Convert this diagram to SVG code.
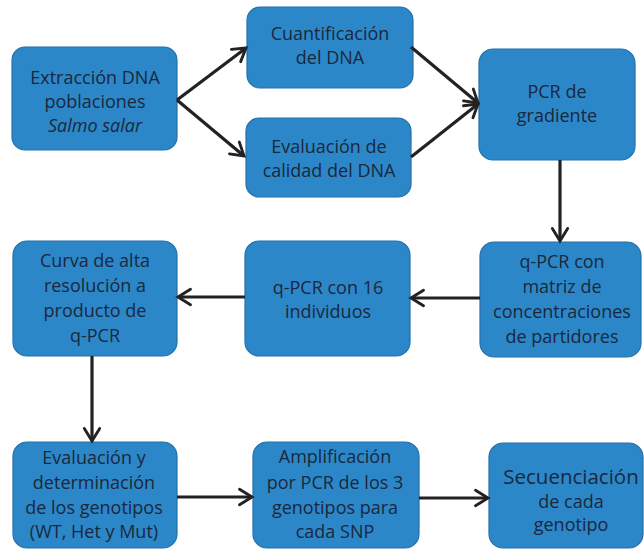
<svg xmlns="http://www.w3.org/2000/svg" width="644" height="550" viewBox="0 0 644 550">
<defs>
<marker id="arr" viewBox="0 0 10 10" refX="8" refY="5" markerWidth="6" markerHeight="6" markerUnits="strokeWidth" orient="auto">
<path d="M1.5,1 L8,5 L1.5,9" fill="none" stroke="#222" stroke-width="1.5" stroke-linejoin="miter" stroke-linecap="round"/>
</marker>
<style>
.box{fill:#2b87c8;stroke:#2470aa;stroke-width:1.2}
.t{font-family:"Open Sans","Liberation Sans",sans-serif;font-size:18px;fill:#1b283c;text-anchor:middle}
.big{font-size:20.5px}
.it{font-style:italic}
.c{fill:none;stroke:#222;stroke-width:3.2;marker-end:url(#arr)}
</style>
</defs>
<rect width="644" height="550" fill="#ffffff"/>
<g id="n1"><rect class="box" x="12" y="47" width="165" height="103" rx="13"/>
<text class="t" x="95" y="84">Extracción DNA</text><text class="t" x="95" y="108">poblaciones</text><text class="t it" x="95" y="132">Salmo salar</text></g>
<g id="n2"><rect class="box" x="247" y="7" width="166" height="81" rx="13"/>
<text class="t" x="330" y="40">Cuantificación</text><text class="t" x="330" y="64">del DNA</text></g>
<g id="n3"><rect class="box" x="246" y="118" width="165" height="79" rx="13"/>
<text class="t" x="329" y="153">Evaluación de</text><text class="t" x="329" y="177">calidad del DNA</text></g>
<g id="n4"><rect class="box" x="479" y="49" width="156" height="111" rx="14"/>
<text class="t" x="557" y="98">PCR de</text><text class="t" x="557" y="122">gradiente</text></g>
<g id="n5"><rect class="box" x="480" y="242" width="161" height="115" rx="14"/>
<text class="t" x="562" y="268">q-PCR con</text><text class="t" x="562" y="293">matriz de</text><text class="t" x="562" y="318">concentraciones</text><text class="t" x="562" y="343">de partidores</text></g>
<g id="n6"><rect class="box" x="245" y="241" width="165" height="115" rx="14"/>
<text class="t" x="328" y="294">q-PCR con 16</text><text class="t" x="328" y="318">individuos</text></g>
<g id="n7"><rect class="box" x="13" y="241" width="164" height="115" rx="14"/>
<text class="t" x="95" y="267">Curva de alta</text><text class="t" x="95" y="292">resolución a</text><text class="t" x="95" y="317">producto de</text><text class="t" x="95" y="342">q-PCR</text></g>
<g id="n8"><rect class="box" x="13" y="442" width="164" height="106" rx="14"/>
<text class="t" x="94" y="464">Evaluación y</text><text class="t" x="94" y="489">determinación</text><text class="t" x="94" y="514">de los genotipos</text><text class="t" x="94" y="538">(WT, Het y Mut)</text></g>
<g id="n9"><rect class="box" x="253" y="442" width="166" height="106" rx="14"/>
<text class="t" x="335" y="463">Amplificación</text><text class="t" x="335" y="489">por PCR de los 3</text><text class="t" x="335" y="514">genotipos para</text><text class="t" x="335" y="538">cada SNP</text></g>
<g id="n10"><rect class="box" x="489" y="443" width="154" height="105" rx="14"/>
<text class="t big" x="571" y="484">Secuenciación</text><text class="t" x="571" y="508">de cada</text><text class="t" x="571" y="531">genotipo</text></g>
<g id="connectors">
<line class="c" x1="177" y1="100" x2="246" y2="48"/>
<line class="c" x1="177" y1="100" x2="244" y2="156"/>
<line class="c" x1="411" y1="47" x2="478" y2="103"/>
<line class="c" x1="411" y1="157" x2="478" y2="104"/>
<line class="c" x1="560" y1="160" x2="560" y2="241"/>
<line class="c" x1="480" y1="298" x2="411" y2="298"/>
<line class="c" x1="245" y1="297" x2="178" y2="297"/>
<line class="c" x1="92" y1="356" x2="92" y2="441"/>
<line class="c" x1="177" y1="497" x2="252" y2="497"/>
<line class="c" x1="419" y1="498" x2="488" y2="498"/>
</g>
</svg>
